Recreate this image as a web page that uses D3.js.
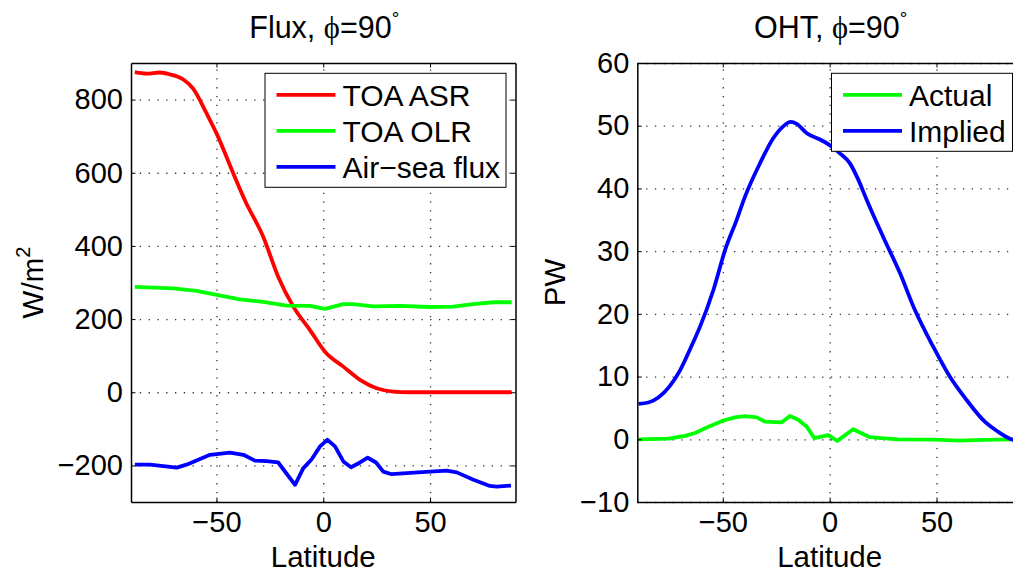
<!DOCTYPE html>
<html><head><meta charset="utf-8">
<script src="https://cdn.jsdelivr.net/npm/d3@7"></script>
<style>
body{margin:0;background:#fff}
svg text{font-family:"Liberation Sans",Arial,Helvetica,sans-serif;fill:#000}
</style>
</head><body>
<svg id="chart" width="1013" height="573"></svg>
<script>
// ---------- data ----------
const xTicks = [-50, 0, 50];
const fluxTicks = [-200, 0, 200, 400, 600, 800];
const ohtTicks = [-10, 0, 10, 20, 30, 40, 50, 60];

const asrLat = [-88.2,-82.7,-76.5,-71.8,-65.5,-60.9,-54.6,-49.9,-42.1,-36.7,-28.1,-21.1,-14.0,-6.2,0.8,9.4,17.2,25,32.8,40,50,60,70,80,88.2];
const asrVal = [875,871,874,869,855,830,762,707,598,525,425,316,234,170,111,70,34,11,2,0,0,0,0,0,0];

const olrLat = [-88.2,-70.2,-59.3,-49.9,-39,-28.1,-17.1,-6.2,0.8,9.4,14,23.4,35.9,50,60.9,70.2,79.6,88.2];
const olrVal = [288,284,277,266,254,247,237,236,228,241,241,235,236,233,234,241,246,246];

const airLat = [-88.2,-81.1,-68.6,-64,-53,-43.7,-37.4,-32,-26.5,-21.1,-13.2,-9.4,-5.4,-1.5,1.9,5.5,9.4,13,17.2,20.8,24.7,28.1,32,39,50,57.8,62.5,70.3,78,81.2,87.9];
const airVal = [-198,-198,-206,-198,-171,-165,-171,-187,-188,-192,-253,-208,-183,-148,-130,-148,-189,-205,-192,-179,-192,-217,-224,-221,-217,-214,-219,-239,-256,-258,-255];

const actLat = [-89.4,-75.4,-67.6,-63,-56.7,-49.7,-44.3,-39.6,-34.1,-30.2,-22.4,-18.6,-14.7,-10.7,-7.2,-0.6,3.6,11,18.8,24.3,32.1,49.2,60.1,72.6,85,88.5];
const actVal = [0,0.1,0.55,1.0,2.0,3.0,3.5,3.7,3.5,2.8,2.7,3.7,3.1,2.0,0.2,0.65,-0.25,1.6,0.33,0.2,0,-0.05,-0.2,-0.1,0,0];

const impLat = [-89.4,-84.8,-80,-75,-70,-65,-60.6,-54.4,-48.9,-43.5,-39.6,-32.6,-26.4,-21.7,-18.2,-15.4,-10.7,-4.5,0.9,4.8,9.5,13.4,17.3,25,32.9,39.9,48.4,56.2,64,72.6,78.8,85,88.5];
const impVal = [5.65,5.86,6.7,8.4,11,14.6,18,23.8,30.2,35,38.7,44,48,49.9,50.6,50.3,48.8,47.8,46.7,45.6,44,41.4,38.2,32.3,26.5,20.6,14.8,10,6.3,2.8,1.2,0,-0.3];

const fluxNames = ["TOA ASR", "TOA OLR", "Air\u2212sea flux"];
const ohtNames = ["Actual", "Implied"];

// ---------- layout ----------
const svg = d3.select("#chart");
const RED = "#ff0000", GREEN = "#00ff00", BLUE = "#0000ff";
const LW = 3.8;

const panels = [
  {
    left: 131, right: 515.5, top: 63, bottom: 502,
    yDomain: [-300, 900], yTicks: fluxTicks,
    title: "Flux, ", ylabel: "W/m", ysup: "2", ylabelX: 43,
    series: [
      {name: fluxNames[0], lat: asrLat, val: asrVal, color: RED, curve: d3.curveMonotoneX},
      {name: fluxNames[1], lat: olrLat, val: olrVal, color: GREEN, curve: d3.curveLinear},
      {name: fluxNames[2], lat: airLat, val: airVal, color: BLUE, curve: d3.curveLinear}
    ],
    legW: 241
  },
  {
    left: 637.3, right: 1022, top: 63, bottom: 502,
    yDomain: [-10, 60], yTicks: ohtTicks,
    title: "OHT, ", ylabel: "PW", ysup: null, ylabelX: 565,
    series: [
      {name: ohtNames[0], lat: actLat, val: actVal, color: GREEN, curve: d3.curveLinear},
      {name: ohtNames[1], lat: impLat, val: impVal, color: BLUE, curve: d3.curveMonotoneX}
    ],
    legW: 181
  }
];

panels.forEach((p, pi) => {
  const x = d3.scaleLinear().domain([-90, 90]).range([p.left, p.right]);
  const y = d3.scaleLinear().domain(p.yDomain).range([p.bottom, p.top]);
  const g = svg.append("g");
  const w = p.right - p.left, h = p.bottom - p.top;

  // grid
  const gridStyle = sel => {
    sel.select(".domain").remove();
    sel.selectAll("text").remove();
    sel.selectAll("line").attr("stroke", "#333").attr("stroke-width", 1.3)
      .attr("stroke-dasharray", "1.3,7.5");
  };
  g.append("g").attr("transform", `translate(0,${p.bottom})`)
    .call(d3.axisBottom(x).tickValues(xTicks).tickSize(-h)).call(gridStyle);
  g.append("g").attr("transform", `translate(${p.left},0)`)
    .call(d3.axisLeft(y).tickValues(p.yTicks).tickSize(-w)).call(gridStyle);

  // lines
  const clipId = "clip" + pi;
  svg.append("clipPath").attr("id", clipId).append("rect")
    .attr("x", p.left).attr("y", p.top).attr("width", w).attr("height", h);
  const lg = g.append("g").attr("clip-path", `url(#${clipId})`);
  p.series.forEach(s => {
    const pts = s.lat.map((l, k) => [l, s.val[k]]);
    lg.append("path").datum(pts)
      .attr("fill", "none").attr("stroke", s.color).attr("stroke-width", LW)
      .attr("stroke-linejoin", "round").attr("stroke-linecap", "butt")
      .attr("d", d3.line().x(d => x(d[0])).y(d => y(d[1])).curve(s.curve));
  });

  // axes
  const axStyle = (sel, fs) => {
    sel.select(".domain").attr("stroke", "#000").attr("stroke-width", 1.5);
    sel.selectAll(".tick line").attr("stroke", "#000").attr("stroke-width", 1);
    sel.selectAll("text").attr("font-size", fs).attr("font-family", "Liberation Sans, Arial, sans-serif").attr("fill", "#000");
  };
  const fmt = d3.format("d");
  g.append("g").attr("transform", `translate(0,${p.bottom})`)
    .call(d3.axisBottom(x).tickValues(xTicks).tickFormat(fmt).tickSizeInner(-4.5).tickSizeOuter(0).tickPadding(9))
    .call(s => axStyle(s, 29));
  g.append("g").attr("transform", `translate(${p.left},0)`)
    .call(d3.axisLeft(y).tickValues(p.yTicks).tickFormat(fmt).tickSizeInner(-4.5).tickSizeOuter(0).tickPadding(8))
    .call(s => axStyle(s, 29));
  g.append("g").attr("transform", `translate(0,${p.top})`)
    .call(d3.axisTop(x).tickValues(xTicks).tickFormat("").tickSizeInner(-4.5).tickSizeOuter(0))
    .call(s => axStyle(s, 29));
  g.append("g").attr("transform", `translate(${p.right},0)`)
    .call(d3.axisRight(y).tickValues(p.yTicks).tickFormat("").tickSizeInner(-4.5).tickSizeOuter(0))
    .call(s => axStyle(s, 29));

  // title
  const cx = (p.left + p.right) / 2;
  const t = g.append("text").attr("x", cx + 1).attr("y", 37.5)
    .attr("text-anchor", "middle").attr("font-size", 30.5);
  t.append("tspan").text(p.title);
  t.append("tspan").attr("font-family", "Liberation Serif, DejaVu Serif, serif").text("\u03d5");
  t.append("tspan").text("=90");
  t.append("tspan").attr("font-size", 19).attr("dy", -13).text("\u00b0");

  // x label
  g.append("text").attr("x", cx).attr("y", 567).attr("text-anchor", "middle")
    .attr("font-size", 29.5).text("Latitude");

  // y label
  const yl = g.append("text").attr("transform", `translate(${p.ylabelX},${(p.top + p.bottom) / 2}) rotate(-90)`)
    .attr("text-anchor", "middle").attr("font-size", 29.5);
  yl.append("tspan").text(p.ylabel);
  if (p.ysup) yl.append("tspan").attr("font-size", 20).attr("dy", -13).text(p.ysup);

  // legend
  const rowH = 36;
  const legH = 8 + rowH * p.series.length - 2;
  const lx = p.right - 9.5 - p.legW, ly = p.top + 10.3;
  const leg = g.append("g");
  leg.append("rect").attr("x", lx).attr("y", ly).attr("width", p.legW).attr("height", legH)
    .attr("fill", "#fff").attr("stroke", "#000").attr("stroke-width", 1);
  p.series.forEach((s, i) => {
    const ry = ly + 21.5 + i * rowH;
    leg.append("line").attr("x1", lx + 11.5).attr("x2", lx + 70.5).attr("y1", ry).attr("y2", ry)
      .attr("stroke", s.color).attr("stroke-width", LW);
    leg.append("text").attr("x", lx + 77.5).attr("y", ry + 11).attr("font-size", 30).text(s.name);
  });
});
</script>
</body></html>
